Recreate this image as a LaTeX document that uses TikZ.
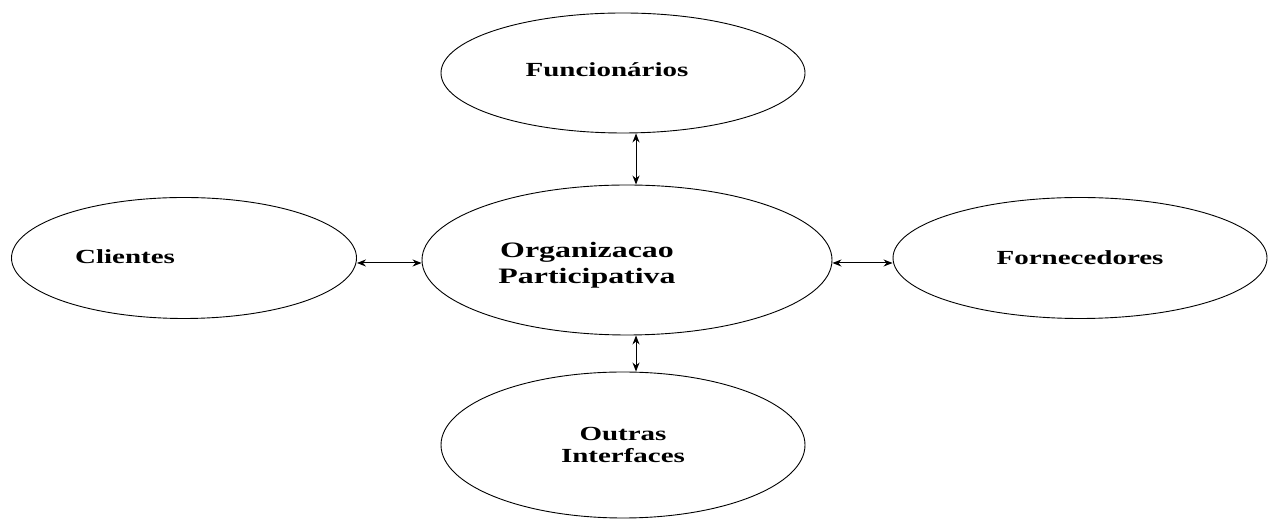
\documentclass[tikz,border=0pt]{standalone}
\usepackage{fontspec}
\setmainfont{Liberation Serif}
\newfontfamily\widefont[FakeStretch=1.45]{Liberation Serif}
\usetikzlibrary{shapes.geometric,arrows.meta}
\tikzset{
  blob/.style={ellipse, draw, line width=0.9pt, inner sep=0pt},
  txt/.style={font=\widefont\bfseries\fontsize{20}{22}\selectfont, align=center},
  both/.style={{Stealth[length=9pt,width=7pt]}-{Stealth[length=9pt,width=7pt]}, line width=1pt}
}
\begin{document}
\begin{tikzpicture}[x=1pt,y=1pt]
\useasboundingbox (0,0) rectangle (1268,521);
\node[blob, minimum width=410pt, minimum height=150pt] (org) at (627,261) {};
\node[txt, font=\widefont\bfseries\fontsize{22}{26}\selectfont] (orgtxt) at (587,256) {Organizacao\\Participativa};
\node[blob, minimum width=364pt, minimum height=120pt] (func) at (623,448) {};
\node[txt] (functxt) at (607,451) {Funcionários};
\node[blob, minimum width=345pt, minimum height=121pt] (cli) at (184,263) {};
\node[txt] (clitxt) at (125,264) {Clientes};
\node[blob, txt, minimum width=374pt, minimum height=121pt] (forn) at (1080,263) {Fornecedores};
\node[blob, txt, minimum width=364pt, minimum height=146pt] (outras) at (623,76) {Outras\\Interfaces};
% two-way links to the centre
\draw[both] ([xshift=13pt]func.south) -- ([xshift=9pt]org.north);
\draw[both] ([xshift=9pt]org.south) -- ([xshift=13pt]outras.north);
\draw[both] ([yshift=-5pt]cli.east) -- ([yshift=-3pt]org.west);
\draw[both] ([yshift=-3pt]org.east) -- ([yshift=-5pt]forn.west);
\end{tikzpicture}
\end{document}
